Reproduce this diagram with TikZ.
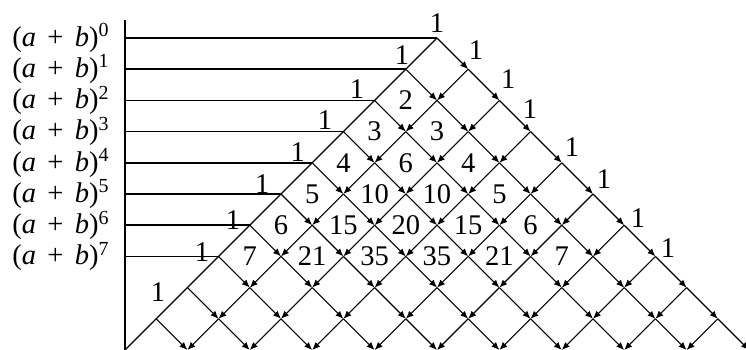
\documentclass[tikz,border=0pt]{standalone}
\usepackage{fontspec}
\setmainfont{Liberation Serif}
\usetikzlibrary{arrows.meta}

\begin{document}
\begin{tikzpicture}[x=0.5cm,y=0.5cm,line width=0.5pt,>={Latex[length=3.6pt,width=3pt]},
    every node/.style={font=\rmfamily\fontsize{13}{15}\selectfont,inner sep=0pt}]
    \useasboundingbox (-14.006,1.218) rectangle (9.904,-9.968);

    % grid points of the triangle
    \foreach \n in {0,...,10}
        \foreach \k in {0,...,\n}
            \coordinate (v\n-\k) at ({2*\k-\n},-\n);

    % left side, no arrows
    \draw (v0-0) -- (v10-0);
    % down-right steps
    \foreach \n in {0,...,9}
        \foreach \k in {0,...,\n} {
            \pgfmathtruncatemacro\m{\n+1}
            \pgfmathtruncatemacro\kk{\k+1}
            \draw[->] (v\n-\k) -- (v\m-\kk);
        }
    % down-left steps
    \foreach \n in {1,...,9}
        \foreach \k in {1,...,\n} {
            \pgfmathtruncatemacro\m{\n+1}
            \draw[->] (v\n-\k) -- (v\m-\k);
        }

    % axis and row lines
    \coordinate (ytop) at (-10,0.58);
    \coordinate (ybot) at (-10,-10.2);
    \draw[line width=0.9pt] (ytop) -- (ybot);
    \foreach \n in {0,...,7} {
        \coordinate (h\n) at (-10,-\n);
        \draw[line width=0.7pt] (h\n) -- (v\n-0);
        \node[anchor=east] (p\n) at (-10.47,-\n)
            {(\textit{a}\hspace{0.4em}+\hspace{0.4em}\textit{b})\textsuperscript{\n}};
    }

    % coefficients
    \foreach \n/\x/\y in {0/0/0.48, 1/-1.12/-0.54, 2/-2.56/-1.63, 3/-3.59/-2.63,
        4/-4.46/-3.65, 5/-5.6/-4.69, 6/-6.54/-5.83, 7/-7.53/-6.86, 8/-8.94/-8.14}
        \node (l\n) at (\x,\y) {1};
    \foreach \n/\x/\y in {1/1.25/-0.38, 2/2.28/-1.31, 3/2.98/-2.28, 4/4.33/-3.49,
        5/5.35/-4.52, 6/6.44/-5.77, 7/7.40/-6.73}
        \node (r\n) at (\x,\y) {1};
    \foreach \n/\vals in {2/{2}, 3/{3,3}, 4/{4,6,4}, 5/{5,10,10,5},
        6/{6,15,20,15,6}, 7/{7,21,35,35,21,7}}
        \foreach \v [count=\k] in \vals
            \node (c\n-\k) at ({2*\k-\n-1},-\n) {\v};

\end{tikzpicture}
\end{document}
